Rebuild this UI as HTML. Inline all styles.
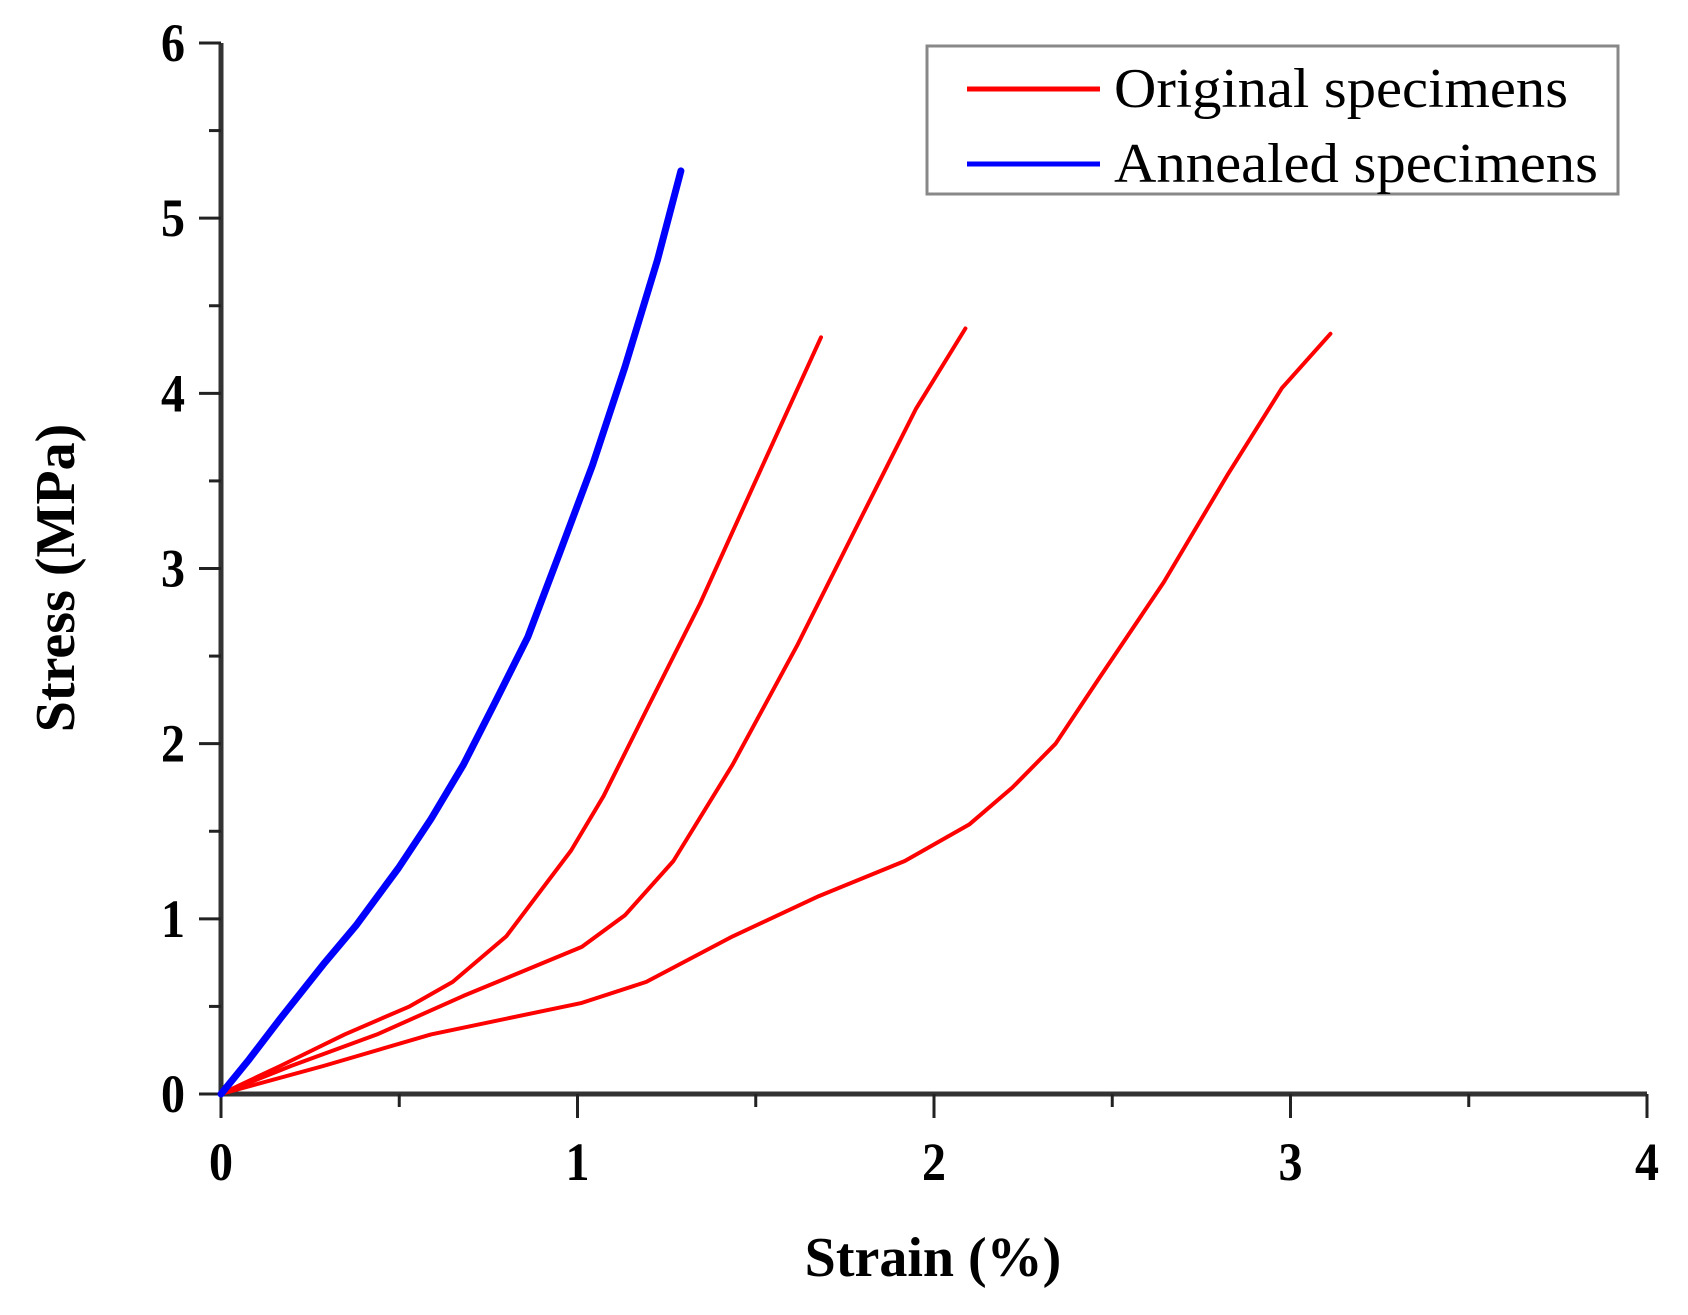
<!DOCTYPE html>
<html><head><meta charset="utf-8"><style>
html,body{margin:0;padding:0;background:#fff;}
svg{display:block;font-family:"Liberation Serif",serif;}
</style></head><body>
<svg id="chart" width="1688" height="1315" viewBox="0 0 1688 1315" xmlns="http://www.w3.org/2000/svg">
<g id="axes"></g>
<g id="series"></g>
<text x="933" y="1276" font-size="56" font-weight="bold" text-anchor="middle">Strain (%)</text>
<text transform="translate(74,578) rotate(-90)" font-size="56" font-weight="bold" text-anchor="middle">Stress (MPa)</text>
<g>
<rect x="927" y="46" width="691" height="148" fill="#fff" stroke="#888" stroke-width="3"/>
<line x1="967" y1="89" x2="1100" y2="89" stroke="#f00" stroke-width="5"/>
<text x="1114" y="107" font-size="56" textLength="454" lengthAdjust="spacingAndGlyphs">Original specimens</text>
<line x1="967" y1="164" x2="1100" y2="164" stroke="#00f" stroke-width="5"/>
<text x="1114" y="182" font-size="56" textLength="484" lengthAdjust="spacingAndGlyphs">Annealed specimens</text>
</g>
</svg>
<script>
const xTicks=[0,1,2,3,4];
const yTicks=[0,1,2,3,4,5,6];
const blueX=[0,0.076,0.166,0.287,0.378,0.498,0.589,0.68,0.77,0.861,0.952,1.042,1.133,1.224,1.29];
const blueY=[0,0.19,0.43,0.74,0.96,1.29,1.57,1.88,2.24,2.61,3.1,3.59,4.15,4.76,5.27];
const red1X=[0,0.166,0.347,0.529,0.65,0.8,0.982,1.073,1.193,1.344,1.495,1.683];
const red1Y=[0,0.16,0.34,0.5,0.64,0.9,1.39,1.7,2.19,2.8,3.48,4.32];
const red2X=[0,0.196,0.438,0.68,1.012,1.133,1.269,1.435,1.616,1.798,1.949,2.088];
const red2Y=[0,0.16,0.34,0.56,0.84,1.02,1.33,1.88,2.56,3.3,3.91,4.37];
const red3X=[0,0.287,0.589,1.012,1.193,1.435,1.677,1.918,2.1,2.22,2.341,2.462,2.644,2.825,2.976,3.112];
const red3Y=[0,0.16,0.34,0.52,0.64,0.9,1.13,1.33,1.54,1.75,2.0,2.37,2.92,3.54,4.03,4.34];

const X0=221,X1=1647,Y0=1094,Y1=43;
const sx=v=>X0+(X1-X0)*v/4;
const sy=v=>Y0-(Y0-Y1)*v/6;
const NS="http://www.w3.org/2000/svg";
const axes=document.getElementById('axes');
const series=document.getElementById('series');
function mk(tag,attrs,parent){const e=document.createElementNS(NS,tag);for(const k in attrs)e.setAttribute(k,attrs[k]);parent.appendChild(e);return e;}
let e;
e=mk('line',{x1:X0,y1:Y0,x2:X1,y2:Y0,stroke:'#333','stroke-width':5},axes);


e=mk('line',{x1:X0,y1:Y0+2,x2:X0,y2:Y1,stroke:'#333','stroke-width':5},axes);


for(let i=0;i<=8;i++){const v=i*0.5;const major=i%2===0;
 e=mk('line',{x1:sx(v),y1:Y0,x2:sx(v),y2:Y0+(major?24:13),stroke:'#222','stroke-width':3},axes);
 
 }
for(let i=0;i<=12;i++){const v=i*0.5;const major=i%2===0;
 e=mk('line',{x1:X0-(major?22:12),y1:sy(v),x2:X0,y2:sy(v),stroke:'#222','stroke-width':3},axes);
 
 }
xTicks.forEach(v=>{e=mk('text',{x:sx(v),y:1180,'font-size':54,'font-weight':'bold','text-anchor':'middle',textLength:24,lengthAdjust:'spacingAndGlyphs'},axes);e.textContent=String(v);
 
 });
yTicks.forEach(v=>{e=mk('text',{x:185,y:sy(v)+18,'font-size':54,'font-weight':'bold','text-anchor':'end',textLength:24,lengthAdjust:'spacingAndGlyphs'},axes);e.textContent=String(v);
 
 });
function line(xs,ys,color,w,name){
 const pts=xs.map((x,i)=>sx(x).toFixed(1)+','+sy(ys[i]).toFixed(1)).join(' ');
 const p=mk('polyline',{points:pts,fill:'none',stroke:color,'stroke-width':w,'stroke-linejoin':'round','stroke-linecap':'round'},series);
 
 }
line(red1X,red1Y,'#f00',4,'original-curve-1');
line(red2X,red2Y,'#f00',4,'original-curve-2');
line(red3X,red3Y,'#f00',4,'original-curve-3');
line(blueX,blueY,'#00f',7,'annealed-curve');
</script>
</body></html>
